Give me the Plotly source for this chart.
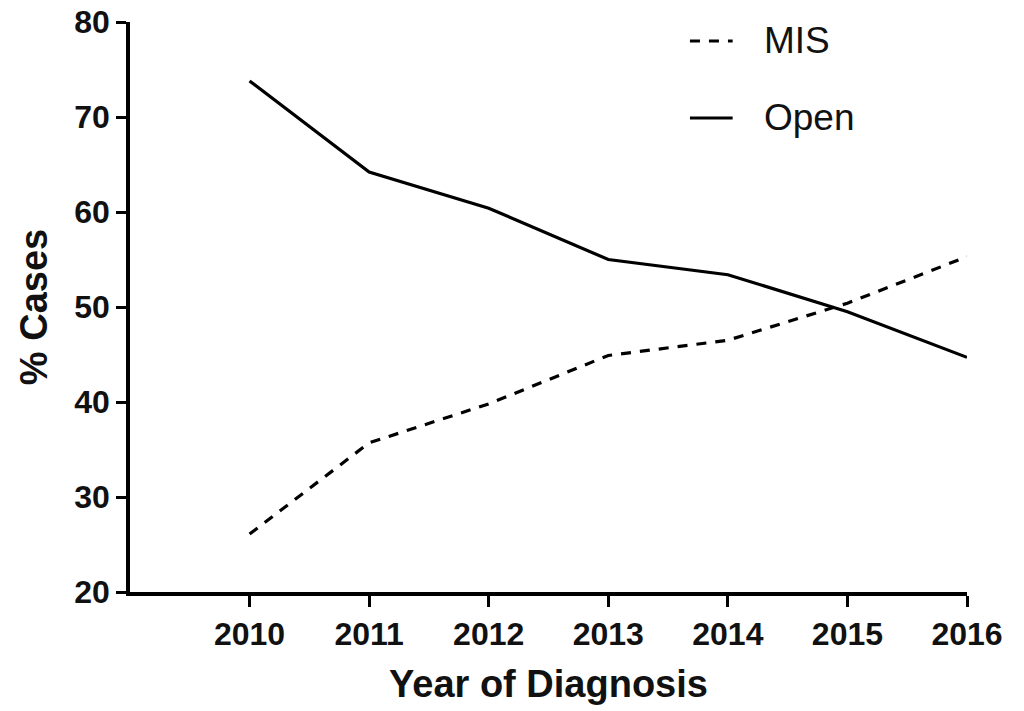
import plotly.graph_objects as go

years = [2010, 2011, 2012, 2013, 2014, 2015, 2016]
mis = [26.1, 35.7, 39.8, 44.9, 46.5, 50.4, 55.3]
open_ = [73.8, 64.2, 60.4, 55.0, 53.4, 49.5, 44.7]
x_ticks = [2010, 2011, 2012, 2013, 2014, 2015, 2016]
y_ticks = [20, 30, 40, 50, 60, 70, 80]
series_names = ["MIS", "Open"]
series_dash = ["10px,9px", "solid"]

fig = go.Figure()
for name, vals, dash in zip(series_names, [mis, open_], series_dash):
    fig.add_trace(go.Scatter(x=years, y=vals, mode="lines", name=name,
                             line=dict(color="black", width=3.2, dash=dash)))

# manual legend (paper coordinates)
leg_y = [0.9667, 0.8316]
for name, dash, yy in zip(series_names, series_dash, leg_y):
    fig.add_shape(type="line", xref="paper", yref="paper", x0=0.669, x1=0.720, y0=yy, y1=yy,
                  line=dict(color="black", width=3.2, dash=dash))
    fig.add_annotation(xref="paper", yref="paper", x=0.755, y=yy, text=name, showarrow=False,
                       xanchor="left", yanchor="middle",
                       font=dict(family="Liberation Sans", size=37, color="#111"))

tickfont = dict(family="Liberation Sans", size=32, color="#111", weight="bold")
titlefont = dict(family="Liberation Sans", size=38, color="#111", weight="bold")
fig.update_layout(
    width=1024, height=711,
    margin=dict(l=130, r=57, t=22, b=119, autoexpand=False),
    paper_bgcolor="white", plot_bgcolor="white",
    showlegend=False,
    xaxis=dict(range=[2009, 2016], tickvals=x_ticks, ticktext=[str(v) for v in x_ticks],
               showgrid=False, zeroline=False, showline=True, linecolor="black", linewidth=3.5,
               ticks="outside", ticklen=11, tickwidth=3, tickcolor="black",
               tickfont=tickfont, ticklabeloverflow="allow",
               title=dict(text="Year of Diagnosis", standoff=20, font=titlefont)),
    yaxis=dict(range=[20, 80], tickvals=y_ticks,
               showgrid=False, zeroline=False, showline=True, linecolor="black", linewidth=3.5,
               ticks="outside", ticklen=10, tickwidth=3, tickcolor="black",
               tickfont=tickfont, ticklabeloverflow="allow",
               title=dict(text="% Cases", standoff=16, font=titlefont)),
)
fig.write_html("out.html", config={"displayModeBar": False},
               post_script="document.body.style.margin='0';document.body.style.overflow='hidden';")
